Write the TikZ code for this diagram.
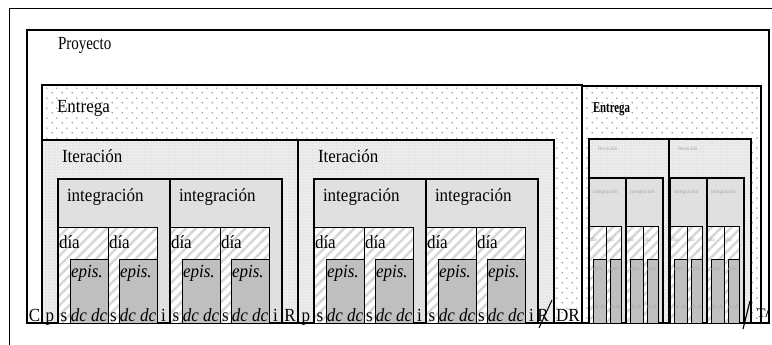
\documentclass[tikz,border=0pt]{standalone}
\usepackage{fontspec}
\usepackage{graphicx}
\setmainfont{Liberation Serif}
\newfontfamily\labfont[FakeStretch=0.92]{Liberation Serif}
\usetikzlibrary{patterns,patterns.meta}

\tikzdeclarepattern{
  name=edots, type=uncolored,
  bounding box={(0pt,0pt) and (10pt,10pt)},
  tile size={(10pt,10pt)},
  code={\fill (2.5pt,2.5pt) circle (0.9pt); \fill (7.5pt,7.5pt) circle (0.9pt);}
}
\tikzdeclarepattern{
  name=itex, type=uncolored,
  bounding box={(0pt,0pt) and (3pt,3pt)},
  tile size={(3pt,3pt)},
  code={\fill (0pt,0pt) rectangle (1pt,1pt); \fill (1.5pt,1.5pt) rectangle (2.5pt,2.5pt);}
}

\begin{document}
\begin{tikzpicture}[x=1pt,y=-1pt,
  every node/.style={inner sep=0pt, outer sep=0pt},
  lab/.style={font=\labfont\fontsize{18.5}{20}\selectfont},
  ital/.style={font=\labfont\fontsize{18.5}{20}\selectfont\itshape},
  tinylab/.style={font=\fontsize{5.5}{6}\selectfont, text=black!35},
  tinyital/.style={font=\fontsize{5.5}{6}\selectfont\itshape, text=black!35},
  frame/.style={draw=black, line width=1pt},
  projbox/.style={draw=black, line width=1.3pt, fill=white},
  entbox/.style={preaction={fill=white}, pattern=edots, pattern color=black!40, draw=black, line width=1.3pt},
  iterbox/.style={preaction={fill=black!7}, pattern=itex, pattern color=black!13, draw=black, line width=1.2pt},
  intbox/.style={draw=black, line width=1.2pt, fill=black!12},
  diabox/.style={preaction={fill=white}, pattern={Lines[angle=45,distance=7pt,line width=2.4pt]}, pattern color=black!16, draw=black, line width=1pt},
  episbox/.style={draw=black, line width=1pt, fill=black!25},
  slash/.style={draw=black, line width=1pt},
]
\useasboundingbox (0,0) rectangle (772,345);
\fill[white] (0,0) rectangle (772,345);

% outer frame (partly visible)
\draw[frame] (772,9) -- (9,9) -- (9,345);

% project
\draw[projbox] (27,30) rectangle (769,323);
\node[anchor=base west] (proy) at (58,50) {\labfont\fontsize{18.5}{20}\selectfont\scalebox{0.88}[1]{Proyecto}};

% releases
\draw[entbox] (42,85) rectangle (582,323);
\node[lab, anchor=base west] (ent1) at (57,113) {Entrega};
\draw[entbox] (582,86) rectangle (761,323);
\node[anchor=base west] (ent2) at (593,113) {\fontsize{15}{16}\selectfont\bfseries\scalebox{0.72}[1]{Entrega}};

% ---- large release: iterations ----
\foreach \S [count=\a] in {42,298} {
  \draw[iterbox] (\S,140) rectangle ++(256,183);
  \node[lab, anchor=base west] (iterlbl\a) at (\S+20,162) {Iteración};
  \node[lab, anchor=base] (p\a) at (\S+8,321) {p};
  \foreach \off [count=\b] in {16,128} {
    \pgfmathsetmacro{\X}{\S+\off}
    \draw[intbox] (\X,179) rectangle ++(112,144);
    \node[lab, anchor=base west] (int\a\b) at (\X+9,201) {integración};
    \foreach \d/\e/\w [count=\c] in {0/12/50, 50/61/49} {
      \draw[diabox] (\X+\d,227) rectangle ++(\w,96);
      \draw[episbox] (\X+\e,259) rectangle (\X+\d+\w,323);
      \node[lab, anchor=base west] (dia\a\b\c) at (\X+\d+1,248) {día};
      \node[ital, anchor=base west] (epis\a\b\c) at (\X+\e+1,277) {epis.};
      \node[ital, anchor=base] (dc\a\b\c) at (\X+\e+19,321) {dc dc};
      \node[lab, anchor=base] (s\a\b\c) at (\X+\d/2+\e/2,321) {s};
    }
    \node[lab, anchor=base] (i\a\b) at (\X+105.5,321) {i};
  }
}
\node[lab, anchor=base] (C) at (34.5,321) {C};
\node[lab, anchor=base] (R1) at (290,321) {R};
\node[lab, anchor=base] (R2) at (543,321) {R};
\coordinate (sl1a) at (552,300);
\coordinate (sl1b) at (539,328);
\draw[slash] (sl1a) -- (sl1b);
\node[lab, anchor=base] (DR) at (568,321) {DR};

% ---- small release ----
\foreach \S/\T/\W [count=\a] in {589/589/80, 669/670/82} {
  \draw[iterbox] (\S,139) rectangle ++(\W,184);
  \node[tinylab, anchor=west] (siter\a) at (\S+9,149) {Iteración};
  \foreach \off [count=\b] in {0,37} {
    \pgfmathsetmacro{\X}{\T+\off}
    \draw[intbox] (\X,178) rectangle ++(37,145);
    \node[tinylab, anchor=west] (sint\a\b) at (\X+4,192) {integración};
    \foreach \d/\e/\w [count=\c] in {0/4/17, 17/21/15} {
      \draw[diabox] (\X+\d,226) rectangle ++(\w,97);
      \draw[episbox] (\X+\e,259) rectangle (\X+\d+\w,323);
      \node[tinylab, anchor=west] (sdia\a\b\c) at (\X+\d+1,240) {día};
      \node[tinyital, anchor=west] (sepis\a\b\c) at (\X+\e,269) {epis.};
      \node[tinyital] (sdc\a\b\c) at (\X+\e/2+\d/2+\w/2,307) {dc dc};
    }
  }
}
\coordinate (sl2a) at (750,301);
\coordinate (sl2b) at (743,329);
\draw[slash, line width=1.2pt] (sl2a) -- (sl2b);
\node[anchor=base] (tend) at (763,317) {\fontsize{13}{14}\selectfont\bfseries T/};

\end{tikzpicture}
\end{document}
